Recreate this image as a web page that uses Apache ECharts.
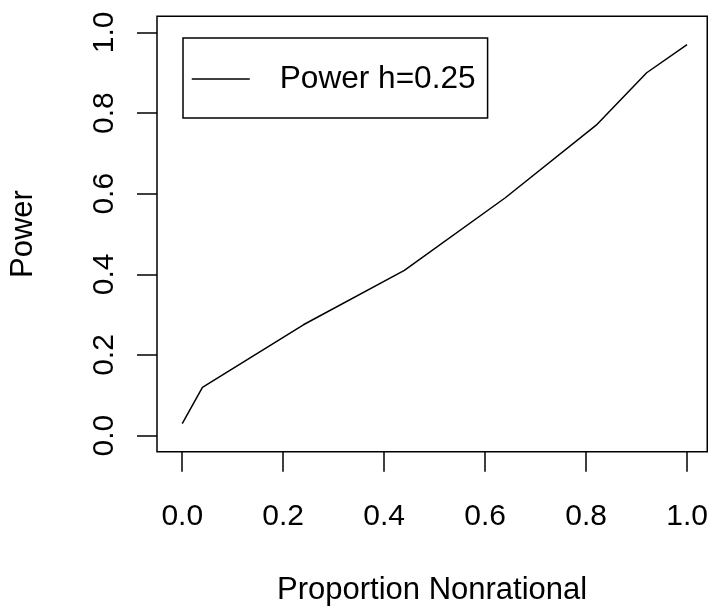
<!DOCTYPE html>
<html>
<head>
<meta charset="utf-8">
<script src="https://cdn.jsdelivr.net/npm/echarts@6/dist/echarts.min.js"></script>
<style>html,body{margin:0;padding:0;background:#fff}#c{width:714px;height:614px}</style>
</head>
<body>
<div id="c"></div>
<script>
const proportionNonrational = [0, 0.04, 0.24, 0.44, 0.64, 0.82, 0.92, 1.0];
const powerH025 = [0.03, 0.12, 0.275, 0.41, 0.59, 0.77, 0.90, 0.97];
const xTicks = [0, 0.2, 0.4, 0.6, 0.8, 1.0];
const yTicks = [0, 0.2, 0.4, 0.6, 0.8, 1.0];
const seriesName = 'Power h=0.25';

const font = 'Liberation Sans, Arial, Helvetica, sans-serif';
const chart = echarts.init(document.getElementById('c'));
chart.setOption({
  animation: false,
  backgroundColor: '#fff',
  grid: {
    left: 156.75, top: 16.3, width: 550.5, height: 435.5,
    show: true, borderColor: '#000', borderWidth: 1.5, backgroundColor: 'transparent'
  },
  legend: {
    left: 183, top: 38,
    orient: 'vertical',
    padding: [25, 12, 23, 8],
    itemWidth: 58, itemHeight: 30,
    borderColor: '#000', borderWidth: 1.5, borderRadius: 0,
    backgroundColor: '#fff',
    itemStyle: { opacity: 0 },
    lineStyle: { color: '#000', width: 1.5 },
    data: [seriesName],
    textStyle: { fontFamily: font, fontSize: 31.6, color: '#000', padding: [0, 0, 0, 25] }
  },
  xAxis: {
    type: 'value', min: -0.05, max: 1.04,
    name: 'Proportion Nonrational', nameLocation: 'middle', nameGap: 123, nameMoveOverlap: false,
    nameTextStyle: { fontFamily: font, fontSize: 31, color: '#000' },
    axisLine: { show: false, onZero: false },
    axisTick: { show: true, inside: false, length: 20, customValues: xTicks, lineStyle: { color: '#000', width: 1.5 } },
    axisLabel: { customValues: xTicks, margin: 50, fontFamily: font, fontSize: 30, color: '#000', formatter: v => v.toFixed(1) },
    splitLine: { show: false }
  },
  yAxis: {
    type: 'value', min: -0.04, max: 1.04,
    name: 'Power', nameLocation: 'middle', nameGap: 118, nameRotate: 90, nameMoveOverlap: false,
    nameTextStyle: { fontFamily: font, fontSize: 31, color: '#000' },
    axisLine: { show: false, onZero: false },
    axisTick: { show: true, inside: false, length: 20, customValues: yTicks, lineStyle: { color: '#000', width: 1.5 } },
    axisLabel: { customValues: yTicks, rotate: 90, margin: 37, fontFamily: font, fontSize: 30, color: '#000', formatter: v => v.toFixed(1) },
    splitLine: { show: false }
  },
  series: [{
    name: seriesName,
    type: 'line',
    symbol: 'none',
    lineStyle: { color: '#000', width: 1.5 },
    itemStyle: { color: '#000' },
    data: proportionNonrational.map((x, i) => [x, powerH025[i]])
  }]
});
</script>
</body>
</html>
